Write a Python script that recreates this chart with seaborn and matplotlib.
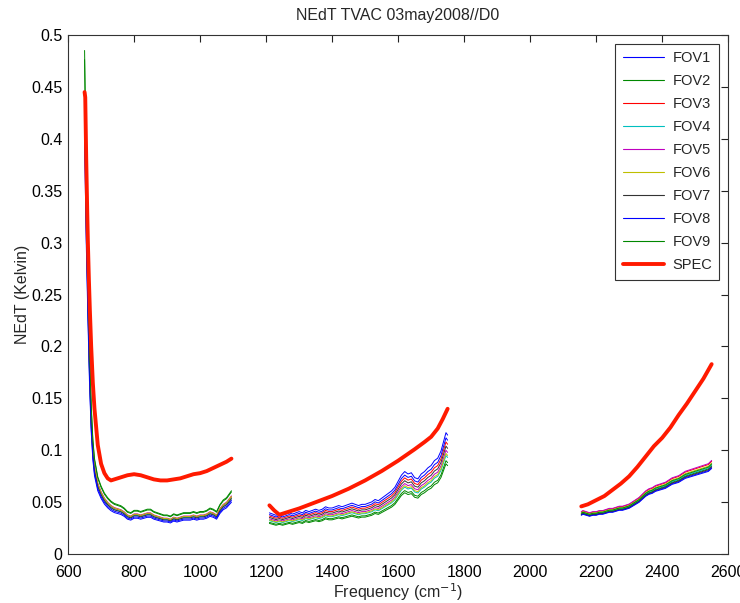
import numpy as np
import pandas as pd
import matplotlib
matplotlib.use("Agg")
import matplotlib.pyplot as plt
import seaborn as sns
from matplotlib.lines import Line2D

# ---------------- data ----------------
title = "NEdT TVAC 03may2008//D0"
fov_names = ["FOV1", "FOV2", "FOV3", "FOV4", "FOV5", "FOV6", "FOV7", "FOV8", "FOV9"]
fov_colors = ["#0000ff", "#008800", "#ff0000", "#00bfbf", "#bf00bf", "#bfbf00", "#333333", "#0000ff", "#008800"]

# long-wave band: mid-FOV NEdT
lw_freq = [650, 655, 660, 665, 670, 675, 680, 690, 700, 710, 720, 730, 740, 750, 760, 770, 780, 790,
           800, 810, 820, 830, 840, 850, 860, 870, 880, 890, 900, 910, 920, 930, 940, 950, 960, 970,
           980, 990, 1000, 1010, 1020, 1030, 1040, 1050, 1060, 1070, 1080, 1090, 1095]
lw_nedt = [0.437, 0.33, 0.25, 0.18, 0.13, 0.10, 0.083, 0.067, 0.059, 0.053, 0.049, 0.046, 0.044, 0.043,
           0.042, 0.040, 0.037, 0.036, 0.038, 0.038, 0.037, 0.038, 0.039, 0.039, 0.037, 0.036, 0.035,
           0.034, 0.034, 0.033, 0.035, 0.034, 0.035, 0.036, 0.036, 0.036, 0.037, 0.036, 0.037, 0.037,
           0.038, 0.040, 0.039, 0.037, 0.043, 0.047, 0.049, 0.053, 0.055]
lw_fov_factor = [0.91, 1.09, 1.00, 0.98, 1.02, 1.01, 0.97, 0.94, 1.11]

# mid-wave band
mw_freq = [1210, 1220, 1230, 1240, 1250, 1260, 1270, 1280, 1290, 1300, 1310, 1320, 1330, 1340, 1350,
           1360, 1370, 1380, 1390, 1400, 1410, 1420, 1430, 1440, 1450, 1460, 1470, 1480, 1490, 1500,
           1510, 1520, 1530, 1540, 1550, 1560, 1570, 1580, 1590, 1600, 1610, 1620, 1630, 1640, 1650,
           1660, 1670, 1680, 1690, 1700, 1710, 1720, 1730, 1740, 1745, 1750]
mw_nedt = [0.034, 0.033, 0.032, 0.033, 0.032, 0.033, 0.034, 0.033, 0.034, 0.035, 0.034, 0.036, 0.035,
           0.036, 0.037, 0.036, 0.037, 0.039, 0.038, 0.038, 0.039, 0.040, 0.039, 0.040, 0.041, 0.042,
           0.041, 0.040, 0.041, 0.041, 0.042, 0.043, 0.045, 0.044, 0.046, 0.048, 0.050, 0.052, 0.055,
           0.060, 0.065, 0.068, 0.066, 0.067, 0.063, 0.062, 0.066, 0.068, 0.071, 0.073, 0.077, 0.079,
           0.085, 0.095, 0.100, 0.098]
mw_fov_factor = [1.17, 0.90, 1.08, 0.95, 1.00, 0.97, 1.04, 1.12, 0.87]

# short-wave band
sw_freq = [2155, 2160, 2170, 2180, 2190, 2200, 2210, 2220, 2230, 2240, 2250, 2260, 2270, 2280, 2290,
           2300, 2310, 2320, 2330, 2340, 2350, 2360, 2370, 2380, 2390, 2400, 2410, 2420, 2430, 2440,
           2450, 2460, 2470, 2480, 2490, 2500, 2510, 2520, 2530, 2540, 2550]
sw_nedt = [0.039, 0.040, 0.039, 0.038, 0.039, 0.039, 0.040, 0.040, 0.041, 0.042, 0.042, 0.043, 0.044,
           0.044, 0.045, 0.046, 0.048, 0.050, 0.052, 0.055, 0.058, 0.060, 0.061, 0.063, 0.064, 0.065,
           0.066, 0.068, 0.070, 0.071, 0.072, 0.074, 0.076, 0.077, 0.078, 0.079, 0.080, 0.081, 0.082,
           0.083, 0.086]
sw_fov_factor = [0.97, 0.99, 1.04, 1.00, 1.05, 1.02, 0.98, 0.96, 1.01]

# SPEC curves
spec_lw_freq = [650, 652, 655, 658, 660, 663, 666, 670, 675, 680, 690, 700, 710, 720, 730, 740, 760, 780,
                800, 820, 840, 860, 880, 900, 920, 940, 960, 980, 1000, 1020, 1040, 1060, 1080, 1095]
spec_lw = [0.445, 0.440, 0.380, 0.330, 0.300, 0.265, 0.235, 0.200, 0.165, 0.140, 0.105, 0.087, 0.078,
           0.073, 0.071, 0.072, 0.074, 0.076, 0.077, 0.076, 0.074, 0.072, 0.071, 0.071, 0.072, 0.073,
           0.075, 0.077, 0.078, 0.080, 0.083, 0.086, 0.089, 0.092]
spec_mw_freq = [1210, 1225, 1240, 1260, 1280, 1300, 1350, 1400, 1450, 1500, 1550, 1600, 1650, 1680,
                1700, 1720, 1735, 1750]
spec_mw = [0.047, 0.042, 0.038, 0.040, 0.042, 0.044, 0.050, 0.056, 0.063, 0.071, 0.080, 0.090, 0.101,
           0.108, 0.113, 0.121, 0.130, 0.140]
spec_sw_freq = [2155, 2175, 2200, 2225, 2250, 2275, 2300, 2325, 2350, 2375, 2400, 2425, 2450, 2475,
                2500, 2525, 2550]
spec_sw = [0.046, 0.048, 0.052, 0.056, 0.062, 0.068, 0.075, 0.084, 0.094, 0.104, 0.112, 0.122, 0.134,
           0.145, 0.157, 0.169, 0.183]

x_ticks = [600, 800, 1000, 1200, 1400, 1600, 1800, 2000, 2200, 2400, 2600]
y_ticks = [0, 0.05, 0.1, 0.15, 0.2, 0.25, 0.3, 0.35, 0.4, 0.45, 0.5]
y_tick_labels = ["0", "0.05", "0.1", "0.15", "0.2", "0.25", "0.3", "0.35", "0.4", "0.45", "0.5"]

# ---------------- plot ----------------
sns.set_style("white")
plt.rcParams["font.family"] = ["Liberation Sans", "DejaVu Sans"]

fig = plt.figure(figsize=(7.4, 6.03), dpi=100)
ax = fig.add_axes([0.092, 0.081, 0.892, 0.861])

bands = [(lw_freq, lw_nedt, lw_fov_factor),
         (mw_freq, mw_nedt, mw_fov_factor),
         (sw_freq, sw_nedt, sw_fov_factor)]

rows = []
for b, (fr, nv, fac) in enumerate(bands):
    for i, name in enumerate(fov_names):
        for f, v in zip(fr, nv):
            rows.append({"freq": f, "nedt": v * fac[i], "fov": name, "band": b})
df = pd.DataFrame(rows)

for i, name in enumerate(fov_names):
    sub = df[df["fov"] == name]
    sns.lineplot(data=sub, x="freq", y="nedt", units="band", estimator=None,
                 color=fov_colors[i], linewidth=0.7, ax=ax, legend=False, sort=False)

spec_rows = []
for b, (fr, nv) in enumerate([(spec_lw_freq, spec_lw), (spec_mw_freq, spec_mw), (spec_sw_freq, spec_sw)]):
    for f, v in zip(fr, nv):
        spec_rows.append({"freq": f, "nedt": v, "band": b})
sdf = pd.DataFrame(spec_rows)
sns.lineplot(data=sdf, x="freq", y="nedt", units="band", estimator=None,
             color="#ff1a00", linewidth=2.8, ax=ax, legend=False, sort=False)

ax.set_xlim(600, 2600)
ax.set_ylim(0, 0.5)
ax.set_xticks(x_ticks)
ax.set_xticklabels([str(t) for t in x_ticks])
ax.set_yticks(y_ticks)
ax.set_yticklabels(y_tick_labels)
ax.tick_params(direction="in", top=True, right=True, length=5, width=0.8,
               labelsize=11.5, colors="#222222", labelcolor="black")
ax.tick_params(axis="x", pad=8)
ax.tick_params(axis="y", pad=4)
for s in ax.spines.values():
    s.set_color("#333333")
    s.set_linewidth(0.8)

ax.set_xlabel("Frequency (cm$^{-1}$)", fontsize=11.5, labelpad=1)
ax.set_ylabel("NEdT (Kelvin)", fontsize=11.5, labelpad=1)
ax.set_title(title, fontsize=11.5, pad=11)

handles = [Line2D([0], [0], color=c, linewidth=0.8) for c in fov_colors]
handles.append(Line2D([0], [0], color="#ff1a00", linewidth=2.8))
leg = ax.legend(handles, fov_names + ["SPEC"], loc="upper right", fontsize=10.5,
                frameon=True, fancybox=False, framealpha=1, edgecolor="#333333",
                handlelength=2.8, labelspacing=0.62, borderpad=0.5, borderaxespad=0.6,
                handletextpad=0.6)
leg.get_frame().set_linewidth(0.8)

fig.savefig("out.png", dpi=100)
